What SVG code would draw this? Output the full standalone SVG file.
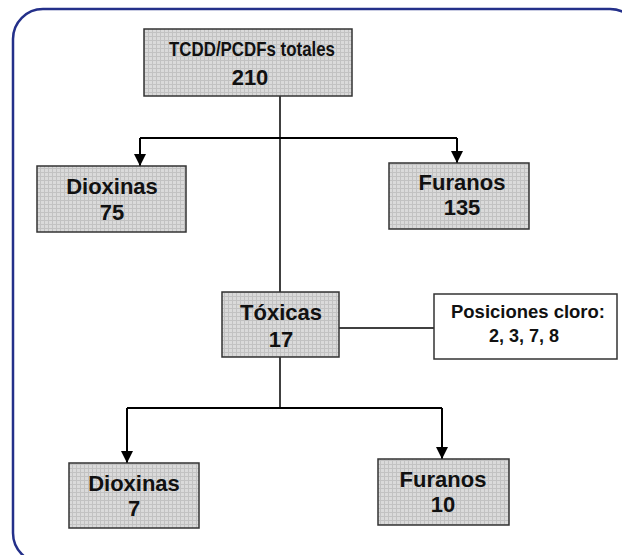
<svg xmlns="http://www.w3.org/2000/svg" width="622" height="555" viewBox="0 0 622 555">
<defs>
<pattern id="grid" width="4" height="4" patternUnits="userSpaceOnUse">
<rect width="4" height="4" fill="#dadada"/>
<path d="M0,0.5H4M0.5,0V4" stroke="#c2c2c2" stroke-width="1" fill="none"/>
</pattern>
<marker id="arr" viewBox="0 0 12 12" refX="12" refY="6" markerWidth="12" markerHeight="12" markerUnits="userSpaceOnUse" orient="auto">
<path d="M0,0L12,6L0,12Z" fill="#000"/>
</marker>
<style>
.box{fill:url(#grid);stroke:#333;stroke-width:1.5}
.wbox{fill:#fff;stroke:#333;stroke-width:1.5}
.t{font-family:"Liberation Sans",Arial,sans-serif;font-weight:bold;font-size:22px;fill:#111;text-anchor:middle}
.s{font-family:"Liberation Sans",Arial,sans-serif;font-weight:bold;font-size:18px;fill:#111;text-anchor:middle}
.c{fill:none;stroke:#000;stroke-width:2}
.c1{fill:none;stroke:#000;stroke-width:1.5}
</style>
</defs>
<rect width="622" height="555" fill="#fff"/>
<rect x="13" y="9" width="627" height="554" rx="30" ry="30" fill="none" stroke="#24308a" stroke-width="2.5"/>
<g id="connectors">
<path class="c1" d="M280,96V408"/>
<path class="c" d="M140,138H457"/>
<path class="c" d="M140,138V166" marker-end="url(#arr)"/>
<path class="c" d="M457,138V163" marker-end="url(#arr)"/>
<path class="c1" d="M339,328H434"/>
<path class="c" d="M127,408H442"/>
<path class="c" d="M127,408V463" marker-end="url(#arr)"/>
<path class="c" d="M442,408V459" marker-end="url(#arr)"/>
</g>
<g id="total">
<rect class="box" x="144" y="29" width="208" height="67"/>
<text class="t" x="252" y="56" style="font-size:21px" textLength="166" lengthAdjust="spacingAndGlyphs">TCDD/PCDFs totales</text>
<text class="t" x="250" y="85">210</text>
</g>
<g id="dioxinas75">
<rect class="box" x="37" y="166" width="149" height="66"/>
<text class="t" x="112" y="194">Dioxinas</text>
<text class="t" x="112" y="220">75</text>
</g>
<g id="furanos135">
<rect class="box" x="389" y="163" width="140" height="66"/>
<text class="t" x="462" y="190">Furanos</text>
<text class="t" x="462" y="215">135</text>
</g>
<g id="toxicas">
<rect class="box" x="222" y="292" width="117" height="65"/>
<text class="t" x="281" y="320">Tóxicas</text>
<text class="t" x="281" y="347">17</text>
</g>
<g id="posiciones">
<rect class="wbox" x="434" y="294" width="183" height="65"/>
<text class="s" x="528" y="318" textLength="154" lengthAdjust="spacingAndGlyphs">Posiciones cloro:</text>
<text class="s" x="524" y="342">2, 3, 7, 8</text>
</g>
<g id="dioxinas7">
<rect class="box" x="69" y="463" width="130" height="65"/>
<text class="t" x="134" y="491">Dioxinas</text>
<text class="t" x="134" y="516">7</text>
</g>
<g id="furanos10">
<rect class="box" x="378" y="459" width="131" height="66"/>
<text class="t" x="443" y="487">Furanos</text>
<text class="t" x="443" y="512">10</text>
</g>
</svg>
